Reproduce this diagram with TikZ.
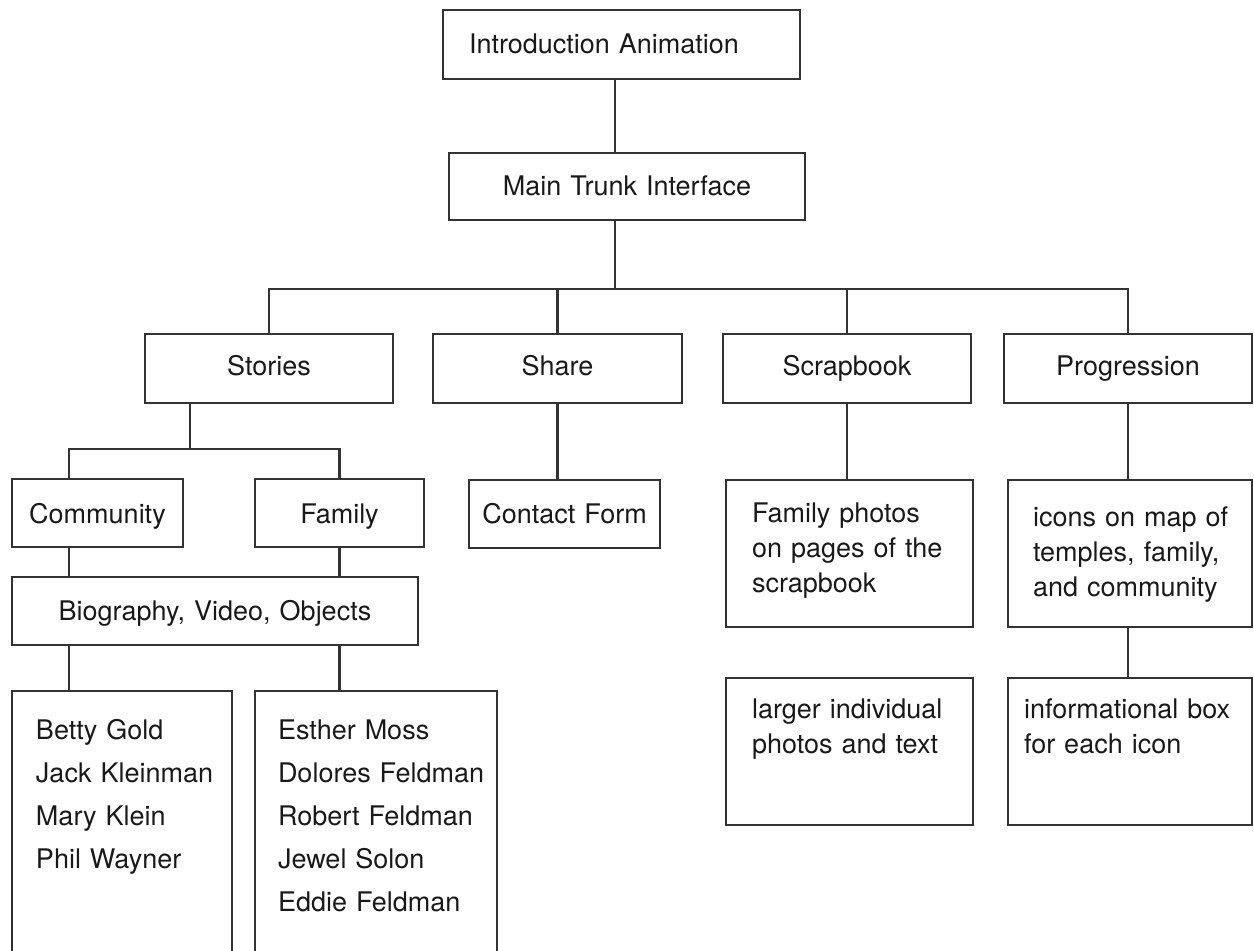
\documentclass[tikz,border=0pt]{standalone}
\usepackage{fontspec}
\setmainfont{TeX Gyre Heros}
\usetikzlibrary{positioning,calc}

\begin{document}
\begin{tikzpicture}[x=1pt,y=-1pt,color=black!80,line width=2.2pt,
	box/.style={draw, anchor=north west, inner sep=0pt, outer sep=0pt, align=center, text=black!90, font=\fontsize{27}{35}\selectfont},
	pad/.style={align=left, execute at begin node={\leftskip=#1\relax}},
	names/.style={font=\fontsize{27}{43}\selectfont}]
		\useasboundingbox (0,0) rectangle (1254,951);
		\clip (0,0) rectangle (1254,951);
		
		% top of the tree
		\node[box, pad=26pt, text width=357pt, text height=43pt, text depth=26pt] (intro) at (443,10) {Introduction Animation};
		\node[box, text width=356pt, text height=42pt, text depth=25pt] (trunk) at (449,153) {Main Trunk Interface};
		
		% the four sections
		\node[box, text width=248pt, text height=41pt, text depth=28pt] (stories) at (145,334) {Stories};
		\node[box, text width=249pt, text height=41pt, text depth=28pt] (share) at (433,334) {Share};
		\node[box, text width=248pt, text height=41pt, text depth=28pt] (scrap) at (723,334) {Scrapbook};
		\node[box, text width=248pt, text height=41pt, text depth=28pt] (prog) at (1004,334) {Progression};
		
		\node[box, text width=171pt, text height=44pt, text depth=24pt] (community) at (12,479) {Community};
		\node[box, text width=169pt, text height=44pt, text depth=24pt] (family) at (255,479) {Family};
		\node[box, text width=191pt, text height=43pt, text depth=25pt] (contact) at (469,480) {Contact Form};
		\node[box, text width=406pt, text height=43pt, text depth=25pt] (bio) at (12,577) {Biography, Video, Objects};
		
		\node[box, names, pad=24pt, text width=220pt, text height=48pt, text depth=213pt] (betty) at (12,691) {Betty Gold\\Jack Kleinman\\Mary Klein\\Phil Wayner};
		\node[box, names, pad=23pt, text width=242pt, text height=48pt, text depth=213pt] (esther) at (255,691) {Esther Moss\\Dolores Feldman\\Robert Feldman\\Jewel Solon\\Eddie Feldman};
		
		\node[box, pad=26pt, text width=247pt, text height=42pt, text depth=105pt] (photos) at (726,480) {Family photos\\on pages of the\\scrapbook};
		\node[box, pad=25pt, text width=244pt, text height=46pt, text depth=101pt] (icons) at (1008,480) {icons on map of\\temples, family,\\and community};
		\node[box, pad=26pt, text width=247pt, text height=40pt, text depth=107pt] (larger) at (726,678) {larger individual\\photos and text};
		\node[box, pad=16pt, text width=244pt, text height=40pt, text depth=107pt] (info) at (1008,678) {informational box\\for each icon};
		
		% connectors
		\coordinate (bar) at (615,289);
		\coordinate (sub) at (190,449);
		\coordinate (stem) at (69,449);
		\draw (intro.south -| bar) -- (trunk.north -| bar);
		\draw (trunk.south -| bar) -- (bar);
		\draw (stories.north) |- (bar) -| (prog.north);
		\draw (share.north) -- (share.north |- bar);
		\draw (scrap.north) -- (scrap.north |- bar);
		\draw (stories.south -| sub) -- (sub);
		\draw (community.north -| stem) -- (stem) -| (family.north);
		\draw (community.south -| stem) -- (bio.north -| stem);
		\draw (family.south) -- (family.south |- bio.north);
		\draw (bio.south -| stem) -- (betty.north -| stem);
		\draw (family.south |- bio.south) -- (family.south |- esther.north);
		\draw (share.south) -- (share.south |- contact.north);
		\draw (scrap.south) -- (scrap.south |- photos.north);
		\draw (prog.south) -- (prog.south |- icons.north);
		\draw (icons.south -| prog) -- (info.north -| prog);
	\end{tikzpicture}
\end{document}
